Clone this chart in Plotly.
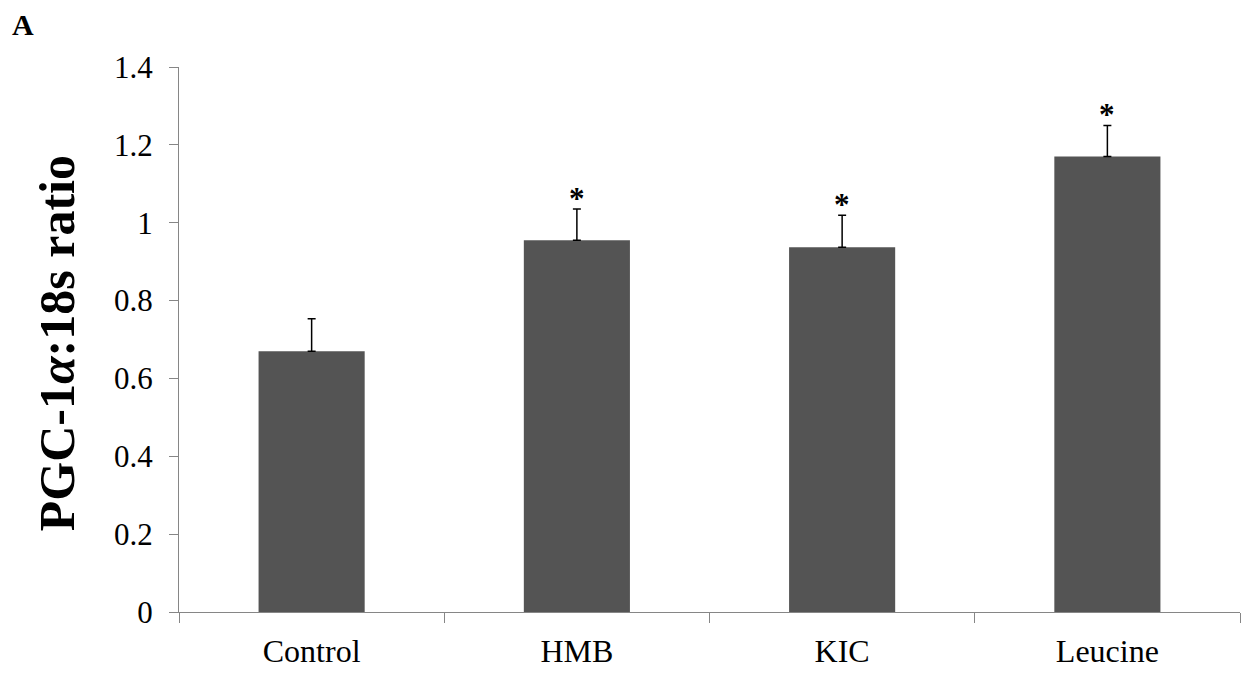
import plotly.graph_objects as go

categories = ["Control", "HMB", "KIC", "Leucine"]
values = [0.67, 0.955, 0.937, 1.17]
errors = [0.083, 0.08, 0.082, 0.08]
significant = [False, True, True, True]
y_ticks = [0, 0.2, 0.4, 0.6, 0.8, 1.0, 1.2, 1.4]
y_tick_labels = ["0", "0.2", "0.4", "0.6", "0.8", "1", "1.2", "1.4"]

FONT = "Liberation Serif"
AXIS_COLOR = "#868686"

fig = go.Figure()
fig.add_trace(go.Bar(
    x=categories,
    y=values,
    marker=dict(color="#545454", line=dict(width=0)),
    error_y=dict(type="data", array=errors, arrayminus=[0] * len(errors),
                 symmetric=False, color="#000000", thickness=1.5, width=4),
    width=0.4,
))

for cat, v, e, s in zip(categories, values, errors, significant):
    if s:
        fig.add_annotation(x=cat, y=v + e, text="<b>*</b>", showarrow=False,
                           yanchor="bottom", yshift=-9,
                           font=dict(family=FONT, size=31, color="#000000"))

fig.add_annotation(xref="paper", yref="paper", x=-0.115, y=0.493,
                   text="<b>PGC-1<i>α</i>:18s ratio</b>", textangle=-90,
                   showarrow=False, xanchor="center", yanchor="middle",
                   font=dict(family=FONT, size=50, color="#000000"))

fig.add_annotation(xref="paper", yref="paper", x=-0.159, y=1.112,
                   text="<b>A</b>", showarrow=False, xanchor="left", yanchor="top",
                   font=dict(family=FONT, size=30, color="#000000"))

fig.update_layout(
    width=1250, height=670,
    margin=dict(l=171, r=18, t=59, b=66, autoexpand=False),
    plot_bgcolor="white", paper_bgcolor="white",
    showlegend=False,
    font=dict(family=FONT, color="#000000", size=30),
    bargap=0.6,
)
fig.update_xaxes(
    showline=True, linecolor=AXIS_COLOR, linewidth=1,
    ticks="outside", tickson="boundaries", ticklen=10, tickcolor=AXIS_COLOR,
    ticklabelstandoff=11, automargin=False,
    showgrid=False, tickfont=dict(family=FONT, size=32, color="#000000"),
)
fig.update_yaxes(
    range=[0, 1.4], tickvals=y_ticks, ticktext=y_tick_labels,
    showline=True, linecolor=AXIS_COLOR, linewidth=1,
    ticks="outside", ticklen=9, tickcolor=AXIS_COLOR,
    ticklabelstandoff=10, automargin=False,
    showgrid=False, zeroline=False,
    tickfont=dict(family=FONT, size=31, color="#000000"),
)

fig.write_html("out.html")
